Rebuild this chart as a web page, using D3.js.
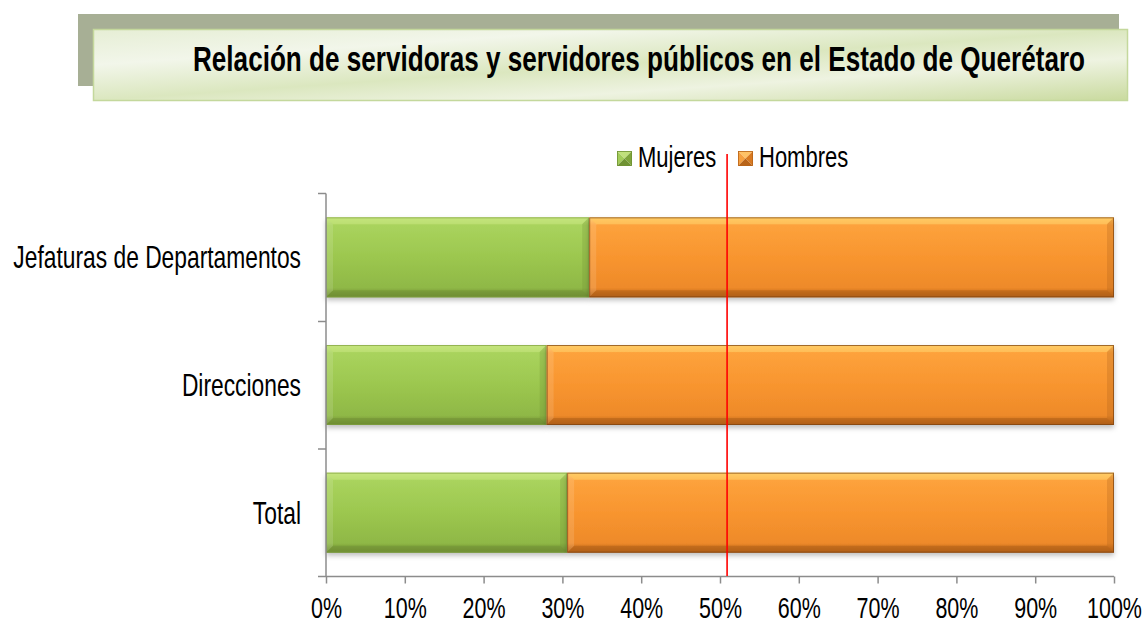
<!DOCTYPE html>
<html>
<head>
<meta charset="utf-8">
<script src="https://cdn.jsdelivr.net/npm/d3@7"></script>
<style>
html,body{margin:0;padding:0;background:#fff;}
svg{display:block;font-family:"Liberation Sans",Arial,sans-serif;}
</style>
</head>
<body>
<svg id="chart" width="1146" height="624"></svg>
<script>
const title = "Relación de servidoras y servidores públicos en el Estado de Querétaro";
const categories = ["Jefaturas de Departamentos", "Direcciones", "Total"];
const seriesNames = ["Mujeres", "Hombres"];
const mujeres = [33.4, 28.0, 30.6];
const hombres = [66.6, 72.0, 69.4];
const referenceValue = 50.9;
const tickValues = [0, 10, 20, 30, 40, 50, 60, 70, 80, 90, 100];
const tickLabels = ["0%", "10%", "20%", "30%", "40%", "50%", "60%", "70%", "80%", "90%", "100%"];

const svg = d3.select("#chart");
const defs = svg.append("defs");

// ---- Title banner ----
const tg = defs.append("linearGradient").attr("id","titleGrad")
  .attr("x1","0").attr("y1","0").attr("x2","1").attr("y2","1");
[[0,"#e6eed5"],[0.25,"#f2f6ea"],[0.5,"#dbe7bf"],[0.7,"#eef3e1"],[1,"#c9da9e"]]
  .forEach(([o,c]) => tg.append("stop").attr("offset",o).attr("stop-color",c));

svg.append("rect").attr("x",78).attr("y",14).attr("width",1041).attr("height",72).attr("fill","#a7af95");
svg.append("rect").attr("x",93.5).attr("y",29.5).attr("width",1034).attr("height",71)
  .attr("fill","url(#titleGrad)").attr("stroke","#c4d89c").attr("stroke-width",1.5);

function stretchedText(g, x, y, txt, size, anchor, weight, fitWidth, k) {
  const t = g.append("text")
    .attr("transform", `translate(${x},${y}) scale(1,${k || 1.38})`)
    .attr("text-anchor", anchor)
    .attr("font-size", size)
    .attr("font-weight", weight || "normal")
    .attr("fill", "#000")
    .text(txt);
  if (fitWidth) t.attr("textLength", fitWidth).attr("lengthAdjust","spacingAndGlyphs");
  return t;
}
stretchedText(svg, 639, 71, title, 25.5, "middle", "bold", 892, 1.36);

// ---- Scales ----
const x = d3.scaleLinear().domain([0,100]).range([326,1114]);
const y = d3.scaleBand().domain(categories).range([193.5,576.5]).paddingInner(0.3735).paddingOuter(0.3735/2);

// ---- Gradients for bars ----
function barGrad(id, stops) {
  const g = defs.append("linearGradient").attr("id",id).attr("x1","0").attr("y1","0").attr("x2","0").attr("y2","1");
  stops.forEach(([o,c]) => g.append("stop").attr("offset",o).attr("stop-color",c));
}
barGrad("gGreen", [[0,"#c4e47a"],[0.1,"#a9d35d"],[0.5,"#9cc74f"],[0.88,"#8fb846"],[0.94,"#7d9f3c"],[1,"#6e8c33"]]);
barGrad("gOrange",[[0,"#ffc862"],[0.1,"#fda23c"],[0.5,"#f8952f"],[0.88,"#ee8a2a"],[0.94,"#cf731f"],[1,"#b5621a"]]);

const shadow = defs.append("filter").attr("id","shadow").attr("x","-5%").attr("y","-20%").attr("width","110%").attr("height","150%");
shadow.append("feDropShadow").attr("dx",0).attr("dy",3).attr("stdDeviation",2.5).attr("flood-color","#000").attr("flood-opacity",0.25);

const series = [
  {name: seriesNames[0], values: mujeres, fill: "url(#gGreen)", light: "#c6e57f", dark: "#6f8e34", edge: "#7f9f40"},
  {name: seriesNames[1], values: hombres, fill: "url(#gOrange)", light: "#ffcf6a", dark: "#a85a16", edge: "#7a4210"}
];

const barsG = svg.append("g");
categories.forEach((cat, i) => {
  let start = 0;
  series.forEach(s => {
    const v = s.values[i];
    const x0 = x(start), x1 = x(start + v);
    const y0 = y(cat), h = y.bandwidth(), y1 = y0 + h;
    const b = 7; // bevel size
    const g = barsG.append("g");
    g.append("rect").attr("x",x0).attr("y",y0).attr("width",x1-x0).attr("height",h)
      .attr("fill",s.fill).attr("filter","url(#shadow)");
    g.append("polygon").attr("points",`${x0},${y0} ${x1},${y0} ${x1-b},${y0+b} ${x0+b},${y0+b}`)
      .attr("fill",s.light).attr("opacity",0.55);
    g.append("polygon").attr("points",`${x0},${y1} ${x1},${y1} ${x1-b},${y1-b} ${x0+b},${y1-b}`)
      .attr("fill",s.dark).attr("opacity",0.45);
    g.append("polygon").attr("points",`${x0},${y0} ${x0+b},${y0+b} ${x0+b},${y1-b} ${x0},${y1}`)
      .attr("fill","#ffffff").attr("opacity",0.12);
    g.append("polygon").attr("points",`${x1},${y0} ${x1-b},${y0+b} ${x1-b},${y1-b} ${x1},${y1}`)
      .attr("fill",s.dark).attr("opacity",0.25);
    g.append("rect").attr("x",x0+0.5).attr("y",y0+0.5).attr("width",x1-x0-1).attr("height",h-1)
      .attr("fill","none").attr("stroke",s.edge).attr("stroke-width",1).attr("opacity",0.7);
    start += v;
  });
});

// ---- Axes ----
const axisColor = "#8c8c8c";
const xAxis = svg.append("g").attr("transform","translate(0,576.5)")
  .call(d3.axisBottom(x).tickValues(tickValues).tickFormat((d,i)=>tickLabels[i]).tickSize(7).tickSizeOuter(0));
xAxis.select(".domain").attr("stroke",axisColor).attr("stroke-width",1.5).attr("d","M318,0H1114");
xAxis.selectAll(".tick line").attr("stroke",axisColor).attr("stroke-width",1.5);
xAxis.selectAll(".tick text").remove();
xAxis.selectAll(".tick").each(function(d,i){
  stretchedText(d3.select(this), 0, 41, tickLabels[i], 21.5, "middle", null, null, 1.33);
});

const yBoundaries = [193.5, 321.5, 449, 576.5];
const yAxis = svg.append("g");
yAxis.append("line").attr("x1",326).attr("x2",326).attr("y1",yBoundaries[0]).attr("y2",yBoundaries[3])
  .attr("stroke",axisColor).attr("stroke-width",1.5);
yBoundaries.slice(0,3).forEach(b => {
  yAxis.append("line").attr("x1",318).attr("x2",326).attr("y1",b).attr("y2",b)
    .attr("stroke",axisColor).attr("stroke-width",1.5);
});
categories.forEach(cat => {
  stretchedText(yAxis, 301, y(cat) + y.bandwidth()/2 + 11, cat, 22.8, "end");
});

// ---- Reference line ----
svg.append("line").attr("x1",x(referenceValue)).attr("x2",x(referenceValue))
  .attr("y1",154).attr("y2",576).attr("stroke","#ff0000").attr("stroke-width",1.6);

// ---- Legend ----
const legend = svg.append("g");
const legendPos = [{mx:617, tx:638}, {mx:738, tx:759}];
const legendCols = [
  {base:"#8cb845", top:"#c0e07c", left:"#a3cc5a", right:"#7fa53c", bottom:"#6f9233"},
  {base:"#e98a2c", top:"#ffc266", left:"#f6a040", right:"#d97a22", bottom:"#b86418"}
];
series.forEach((s,i) => {
  const mx = legendPos[i].mx, my = 151, m = 15, c = legendCols[i];
  const cx = mx + m/2, cy = my + m/2;
  legend.append("polygon").attr("points",`${mx},${my} ${mx+m},${my} ${cx},${cy}`).attr("fill",c.top);
  legend.append("polygon").attr("points",`${mx},${my} ${cx},${cy} ${mx},${my+m}`).attr("fill",c.left);
  legend.append("polygon").attr("points",`${mx+m},${my} ${cx},${cy} ${mx+m},${my+m}`).attr("fill",c.right);
  legend.append("polygon").attr("points",`${mx},${my+m} ${cx},${cy} ${mx+m},${my+m}`).attr("fill",c.bottom);
  legend.append("rect").attr("x",mx+0.5).attr("y",my+0.5).attr("width",m-1).attr("height",m-1)
    .attr("fill","none").attr("stroke",c.bottom).attr("stroke-width",0.8);
  stretchedText(legend, legendPos[i].tx, 167, s.name, 22, "start");
});
</script>
</body>
</html>
